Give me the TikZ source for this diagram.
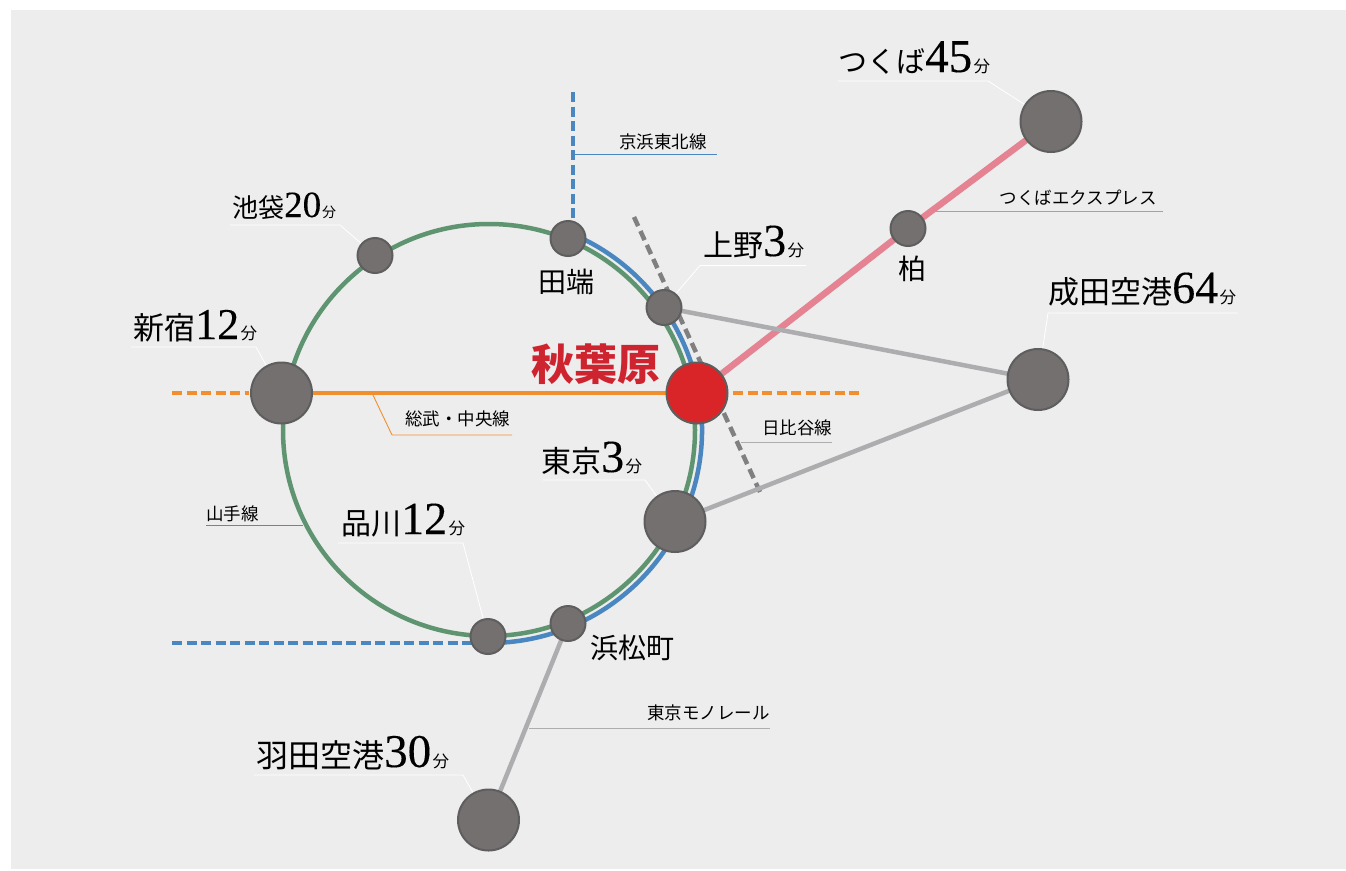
\documentclass[tikz,border=0pt]{standalone}
\usepackage{fontspec}
\usepackage{xcolor}
\usepackage[outline]{contour}
\setmainfont{Noto Sans CJK JP}
\newfontfamily\digitfont[FakeBold=0.25]{Liberation Serif}
\usetikzlibrary{backgrounds}
\contourlength{1.6pt}
\contournumber{32}

\definecolor{panelgray}{HTML}{EDEDED}
\definecolor{stationgray}{HTML}{747070}
\definecolor{stationedge}{HTML}{5E5E5E}
\definecolor{akibared}{HTML}{D92528}
\definecolor{akibatext}{HTML}{CE2430}
\definecolor{yamanote}{HTML}{5E9470}
\definecolor{keihin}{HTML}{4A86C0}
\definecolor{sobu}{HTML}{F18E2E}
\definecolor{tx}{HTML}{E58393}
\definecolor{airport}{HTML}{ADADB0}
\definecolor{hibiya}{HTML}{808080}

% sizes of name and digits, then name, minutes
\newcommand{\timebig}[4]{{\fontsize{#1}{36}\selectfont #3}{\digitfont\fontsize{#2}{50}\selectfont #4}\hspace{1.5pt}{\fontsize{16.5}{20}\selectfont 分}}
\newcommand{\timemid}[2]{{\fontsize{26}{30}\selectfont #1}{\digitfont\fontsize{37}{40}\selectfont #2}\hspace{1pt}{\fontsize{14}{18}\selectfont 分}}

\tikzset{
    station/.style={circle, draw=stationedge, line width=2pt, fill=stationgray, inner sep=0pt, outer sep=0pt},
    hub/.style={station, minimum size=61pt},
    stop/.style={station, minimum size=35pt},
    timetext/.style={anchor=base west, inner sep=0pt, text=black},
    stoptext/.style={inner sep=0pt, text=black, font=\fontsize{28}{32}\selectfont},
    linetext/.style={inner sep=0pt, text=black, font=\fontsize{17.5}{20}\selectfont},
    leader/.style={white, line width=0.8pt},
    tag/.style={line width=0.9pt},
    track/.style={line width=4.5pt},
    trackdash/.style={line width=4.5pt, dash pattern=on 10pt off 4.5pt},
}

\begin{document}
\begin{tikzpicture}[x=1pt,y=-1pt]
    \useasboundingbox (0,0) rectangle (1346,870);

    % Stations
    \node[hub, fill=akibared] (akiba) at (697,393) {};
    \node[hub] (shinjuku) at (281.5,393) {};
    \node[hub] (tokyo) at (675,521.5) {};
    \node[hub] (haneda) at (488.5,820) {};
    \node[hub] (tsukuba) at (1051,121.5) {};
    \node[hub] (narita) at (1038,379.5) {};
    \node[stop] (ikebukuro) at (375,255.5) {};
    \node[stop] (tabata) at (568,238.5) {};
    \node[stop] (ueno) at (664,307.5) {};
    \node[stop] (shinagawa) at (488,636.5) {};
    \node[stop] (hamamatsu) at (568,623.5) {};
    \node[stop] (kashiwa) at (908,228.5) {};

    % Free ends
    \coordinate (loopcentre) at (489,430);
    \coordinate (keihinN) at (573,92);
    \coordinate (keihinNend) at (573,224);
    \coordinate (keihinW) at (172,643);
    \coordinate (keihinWend) at (472,643);
    \coordinate (sobuW) at (172,393);
    \coordinate (sobuWend) at (249,393);
    \coordinate (sobuE) at (733,393);
    \coordinate (sobuEend) at (860,393);
    \coordinate (hibiyaN) at (634,217);
    \coordinate (hibiyaS) at (760,492);

    \begin{scope}[on background layer]
        \fill[panelgray] (11,10) rectangle (1346,869);

        % Leaders to the time labels
        \coordinate (tsukubaA) at (838,81);
        \coordinate (tsukubaB) at (988,81);
        \draw[leader] (tsukubaA) -- (tsukubaB) -- (tsukuba);
        \coordinate (naritaA) at (1238,313);
        \coordinate (naritaB) at (1048,313);
        \draw[leader] (naritaA) -- (naritaB) -- (narita);
        \coordinate (uenoA) at (806,265.5);
        \coordinate (uenoB) at (700,265.5);
        \draw[leader] (uenoA) -- (uenoB) -- (ueno);
        \coordinate (tokyoA) at (543,480);
        \coordinate (tokyoB) at (645,480);
        \draw[leader] (tokyoA) -- (tokyoB) -- (tokyo);
        \coordinate (shinagawaA) at (338,543);
        \coordinate (shinagawaB) at (463,543);
        \draw[leader] (shinagawaA) -- (shinagawaB) -- (shinagawa);
        \coordinate (hanedaA) at (254,775);
        \coordinate (hanedaB) at (463,775);
        \draw[leader] (hanedaA) -- (hanedaB) -- (haneda);
        \coordinate (shinjukuA) at (131,347);
        \coordinate (shinjukuB) at (256,347);
        \draw[leader] (shinjukuA) -- (shinjukuB) -- (shinjuku);
        \coordinate (ikebukuroA) at (230,225);
        \coordinate (ikebukuroB) at (340,225);
        \draw[leader] (ikebukuroA) -- (ikebukuroB) -- (ikebukuro);

        % Lines
        \draw[hibiya, trackdash, dash pattern=on 10pt off 5.4pt] (hibiyaN) -- (hibiyaS);
        \draw[keihin, track] ([shift={(67.6:213pt)}]loopcentre) arc[start angle=67.6, end angle=-90, radius=213pt];
        \draw[yamanote, track] (loopcentre) circle[radius=206pt];
        \draw[keihin, trackdash] (keihinN) -- (keihinNend);
        \draw[keihin, trackdash] (keihinW) -- (keihinWend);
        \draw[sobu, track] (shinjuku) -- (akiba);
        \draw[sobu, trackdash] (sobuW) -- (sobuWend);
        \draw[sobu, trackdash] (sobuE) -- (sobuEend);
        \draw[tx, line width=6.5pt] (akiba) -- (kashiwa);
        \draw[tx, line width=6.5pt] (kashiwa) -- (tsukuba);
        \draw[airport, track] (ueno) -- (narita);
        \draw[airport, track] (tokyo) -- (narita);
        \draw[airport, track] (hamamatsu) -- (haneda);

        % Leaders to the line names
        \coordinate (keihinTagA) at (573,154.5);
        \coordinate (keihinTagB) at (717,154.5);
        \draw[keihin, tag] (keihinTagA) -- (keihinTagB);
        \coordinate (txTagA) at (935,211);
        \coordinate (txTagB) at (1163,211);
        \draw[tx, tag] (txTagA) -- (txTagB);
        \coordinate (hibiyaTagA) at (741,442);
        \coordinate (hibiyaTagB) at (832,442);
        \draw[airport, tag] (hibiyaTagA) -- (hibiyaTagB);
        \coordinate (sobuTagA) at (372,393);
        \coordinate (sobuTagB) at (392,435);
        \coordinate (sobuTagC) at (512,435);
        \draw[sobu, tag] (sobuTagA) -- (sobuTagB) -- (sobuTagC);
        \coordinate (yamanoteTagA) at (206,525.5);
        \coordinate (yamanoteTagB) at (303,525.5);
        \draw[yamanote, tag] (yamanoteTagA) -- (yamanoteTagB);
        \coordinate (monoTagA) at (529,728);
        \coordinate (monoTagB) at (770,728);
        \draw[airport, tag] (monoTagA) -- (monoTagB);
    \end{scope}

    % Time labels
    \node[timetext] (tsukubaT) at (838,72) {\timebig{29}{47}{つくば}{45}};
    \node[timetext] (naritaT) at (1048,303) {\timebig{31}{46}{成田空港}{64}};
    \node[timetext] (uenoT) at (703,256) {\timebig{30}{46}{上野}{3}};
    \node[timetext] (tokyoT) at (541,472) {\timebig{30}{46}{東京}{3}};
    \node[timetext] (shinagawaT) at (341,534) {\timebig{30}{46}{品川}{12}};
    \node[timetext] (hanedaT) at (256,767) {\timebig{32}{47}{羽田空港}{30}};
    \node[timetext] (shinjukuT) at (133,339) {\timebig{31}{44}{新宿}{12}};
    \node[timetext] (ikebukuroT) at (232,217) {\timemid{池袋}{20}};

    % Stop names
    \node[stoptext] (tabataT) at (566,282) {田端};
    \node[stoptext] (kashiwaT) at (912,269) {柏};
    \node[stoptext] (hamamatsuT) at (632.5,648) {浜松町};
    \node[inner sep=0pt, text=akibatext, font=\fontsize{43}{48}\selectfont\bfseries] (akibaT) at (596,364) {\contour{white}{秋葉原}};

    % Line names
    \node[linetext] (keihinL) at (663,142) {京浜東北線};
    \node[linetext] (txL) at (1078,198) {つくばエクスプレス};
    \node[linetext] (hibiyaL) at (797,428) {日比谷線};
    \node[linetext] (sobuL) at (457.5,419) {総武・中央線};
    \node[linetext] (yamanoteL) at (232.5,514) {山手線};
    \node[linetext] (monoL) at (708.5,713) {東京モノレール};
\end{tikzpicture}
\end{document}
